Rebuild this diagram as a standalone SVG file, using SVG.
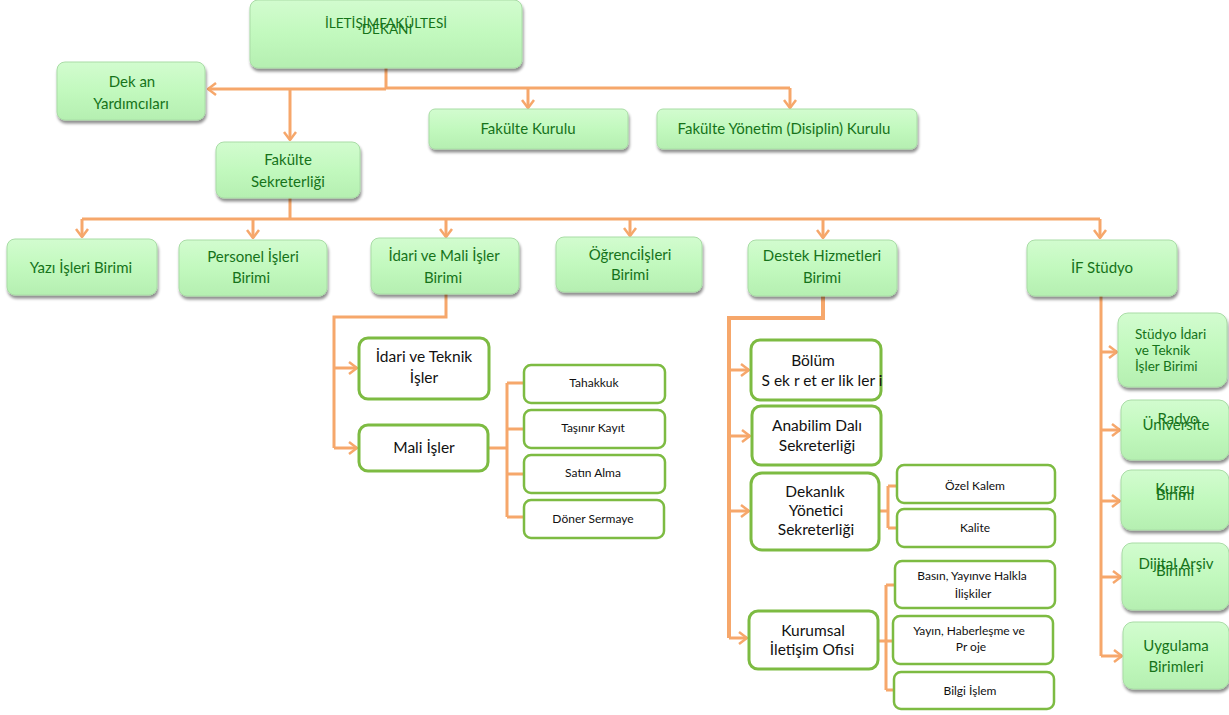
<svg xmlns="http://www.w3.org/2000/svg" width="1229" height="715" viewBox="0 0 1229 715">
<defs>
<linearGradient id="gg" x1="0" y1="0" x2="0" y2="1">
<stop offset="0" stop-color="#d2fccf"/>
<stop offset="0.5" stop-color="#c2f9be"/>
<stop offset="1" stop-color="#b5efb1"/>
</linearGradient>
<filter id="sh" x="-10%" y="-10%" width="125%" height="135%">
<feGaussianBlur in="SourceAlpha" stdDeviation="1.5"/>
<feOffset dx="1" dy="3" result="o"/>
<feComponentTransfer><feFuncA type="linear" slope="0.45"/></feComponentTransfer>
<feMerge><feMergeNode/><feMergeNode in="SourceGraphic"/></feMerge>
</filter>
<marker id="ar" viewBox="0 0 10 14" refX="9" refY="7" markerWidth="10" markerHeight="14" orient="auto" markerUnits="userSpaceOnUse">
<path d="M1,1 L9,7 L1,13" fill="none" stroke="#f6a76b" stroke-width="2.5"/>
</marker>
<style>
.g{fill:url(#gg);stroke:#a9dca6;stroke-width:1;filter:url(#sh)}
.w{fill:#fff;stroke:#7dbb42;stroke-width:3}
.w2{fill:#fff;stroke:#7dbb42;stroke-width:2.5}
.t{font-family:Lato,"Liberation Sans",sans-serif;font-size:15px;fill:#16731a;text-anchor:middle}
.k{font-family:Lato,"Liberation Sans",sans-serif;font-size:15.5px;fill:#111;text-anchor:middle}
.s{font-family:Lato,"Liberation Sans",sans-serif;font-size:12px;fill:#111;text-anchor:middle}
.c{fill:none;stroke:#f6a76b;stroke-width:3}
.ca{fill:none;stroke:#f6a76b;stroke-width:3;marker-end:url(#ar)}
</style>
</defs>
<g id="connectors">
<path class="c" d="M386,68 V88 H790"/>
<path class="ca" d="M386,89 H208"/>
<path class="ca" d="M290,89 V140"/>
<path class="ca" d="M528,88 V108"/>
<path class="ca" d="M790,88 V108"/>
<path class="c" d="M290,198 V219 M82,219 H1100"/>
<path class="ca" d="M82,219 V237"/>
<path class="ca" d="M253,219 V238"/>
<path class="ca" d="M446,219 V237"/>
<path class="ca" d="M630,219 V236"/>
<path class="ca" d="M823,219 V238"/>
<path class="ca" d="M1100,219 V238"/>
<path class="c" d="M446,294 V317 H334 V448"/>
<path class="ca" d="M334,368 H357"/>
<path class="ca" d="M334,448 H357"/>
<path class="c" d="M488,448 H507 M507,383 V517 M507,383 H524 M507,429 H524 M507,474 H524 M507,517 H524"/>
<path class="c" d="M823,296 V318 H729 V638" style="stroke-width:4"/>
<path class="ca" d="M729,370 H749"/>
<path class="ca" d="M729,436 H750"/>
<path class="ca" d="M729,511 H749"/>
<path class="ca" d="M729,638 H747"/>
<path class="c" d="M879,511 H888 M888,486 V528 M888,486 H897 M888,528 H897"/>
<path class="c" d="M878,641 H886 M886,585 V690 M886,585 H895 M886,641 H893 M886,690 H894"/>
<path class="c" d="M1101,296 V656"/>
<path class="ca" d="M1101,352 H1117"/>
<path class="ca" d="M1101,430 H1120"/>
<path class="ca" d="M1101,501 H1120"/>
<path class="ca" d="M1101,577 H1121"/>
<path class="ca" d="M1101,656 H1122"/>
</g>
<g id="dekan"><rect class="g" x="250" y="0" width="272" height="68" rx="8"/><text class="t" x="386" y="28" style="font-size:13.6px">İLETİŞİMFAKÜLTESİ</text><text class="t" x="387" y="34" style="font-size:13.6px">DEKANI</text></g>
<g id="dekan-yardimcilari"><rect class="g" x="57" y="62" width="148" height="58" rx="8"/><text class="t" x="132" y="87">Dek an</text><text class="t" x="131" y="109">Yardımcıları</text></g>
<g id="fakulte-kurulu"><rect class="g" x="429" y="109" width="199" height="40" rx="6"/><text class="t" x="528" y="134">Fakülte Kurulu</text></g>
<g id="fakulte-yonetim"><rect class="g" x="657" y="109" width="260" height="40" rx="6"/><text class="t" x="784" y="134">Fakülte Yönetim (Disiplin) Kurulu</text></g>
<g id="fakulte-sekreterligi"><rect class="g" x="216" y="142" width="144" height="56" rx="8"/><text class="t" x="288" y="165">Fakülte</text><text class="t" x="288" y="187">Sekreterliği</text></g>
<g id="yazi-isleri"><rect class="g" x="7" y="239" width="150" height="56" rx="8"/><text class="t" x="81" y="273">Yazı İşleri Birimi</text></g>
<g id="personel-isleri"><rect class="g" x="179" y="240" width="148" height="56" rx="8"/><text class="t" x="253" y="262">Personel İşleri</text><text class="t" x="251" y="283">Birimi</text></g>
<g id="idari-mali"><rect class="g" x="371" y="238" width="148" height="56" rx="8"/><text class="t" x="444" y="261">İdari ve Mali İşler</text><text class="t" x="443" y="283">Birimi</text></g>
<g id="ogrenci-isleri"><rect class="g" x="556" y="237" width="146" height="55" rx="8"/><text class="t" x="630" y="260">Öğrenciİşleri</text><text class="t" x="630" y="280">Birimi</text></g>
<g id="destek-hizmetleri"><rect class="g" x="748" y="240" width="149" height="56" rx="8"/><text class="t" x="822" y="261">Destek Hizmetleri</text><text class="t" x="822" y="283">Birimi</text></g>
<g id="if-studyo"><rect class="g" x="1027" y="240" width="150" height="56" rx="8"/><text class="t" x="1102" y="273">İF Stüdyo</text></g>
<g id="idari-teknik"><rect class="w" x="359" y="338" width="130" height="61" rx="9"/><text class="k" x="424" y="362">İdari ve Teknik</text><text class="k" x="424" y="383">İşler</text></g>
<g id="mali-isler"><rect class="w" x="359" y="425" width="129" height="46" rx="9"/><text class="k" x="424" y="453">Mali İşler</text></g>
<g id="tahakkuk"><rect class="w2" x="524" y="365" width="141" height="38" rx="7"/><text class="s" x="594" y="387">Tahakkuk</text></g>
<g id="tasinir-kayit"><rect class="w2" x="524" y="410" width="141" height="38" rx="7"/><text class="s" x="593" y="432">Taşınır Kayıt</text></g>
<g id="satin-alma"><rect class="w2" x="524" y="455" width="141" height="38" rx="7"/><text class="s" x="593" y="477">Satın Alma</text></g>
<g id="doner-sermaye"><rect class="w2" x="524" y="500" width="140" height="38" rx="7"/><text class="s" x="593" y="523">Döner Sermaye</text></g>
<g id="bolum-sekreterlikleri"><rect class="w" x="751" y="340" width="130" height="60" rx="9"/><text class="k" x="813" y="366">Bölüm</text><text class="k" x="822" y="386" xml:space="preserve">S ek r et er lik ler i</text></g>
<g id="anabilim-dali"><rect class="w" x="752" y="406" width="129" height="59" rx="9"/><text class="k" x="817" y="431">Anabilim Dalı</text><text class="k" x="817" y="451">Sekreterliği</text></g>
<g id="dekanlik-yonetici"><rect class="w" x="751" y="473" width="128" height="77" rx="11"/><text class="k" x="815" y="497">Dekanlık</text><text class="k" x="816" y="516">Yönetici</text><text class="k" x="816" y="535">Sekreterliği</text></g>
<g id="ozel-kalem"><rect class="w2" x="897" y="465" width="158" height="38" rx="7"/><text class="s" x="975" y="490">Özel Kalem</text></g>
<g id="kalite"><rect class="w2" x="897" y="509" width="158" height="38" rx="7"/><text class="s" x="975" y="532">Kalite</text></g>
<g id="kurumsal-iletisim"><rect class="w" x="749" y="611" width="129" height="58" rx="9"/><text class="k" x="813" y="636">Kurumsal</text><text class="k" x="812" y="655">İletişim Ofisi</text></g>
<g id="basin-yayin"><rect class="w2" x="895" y="561" width="160" height="47" rx="7"/><text class="s" x="972" y="580">Basın, Yayınve Halkla</text><text class="s" x="973" y="598">İlişkiler</text></g>
<g id="yayin-haberlesme"><rect class="w2" x="893" y="616" width="160" height="48" rx="7"/><text class="s" x="969" y="635">Yayın, Haberleşme ve</text><text class="s" x="971" y="651">Pr oje</text></g>
<g id="bilgi-islem"><rect class="w2" x="894" y="672" width="160" height="37" rx="7"/><text class="s" x="970" y="695">Bilgi İşlem</text></g>
<g id="studyo-idari"><rect class="g" x="1118" y="313" width="109" height="74" rx="10"/><text class="t" x="1135" y="339" style="text-anchor:start;font-size:13.6px">Stüdyo İdari</text><text class="t" x="1135" y="355" style="text-anchor:start;font-size:13.6px">ve Teknik</text><text class="t" x="1135" y="371" style="text-anchor:start;font-size:13.6px">İşler Birimi</text></g>
<g id="radyo-universite"><rect class="g" x="1121" y="400" width="108" height="60" rx="10"/><text class="t" x="1178" y="424">Radyo</text><text class="t" x="1176" y="430">Üniversite</text></g>
<g id="kurgu-birimi"><rect class="g" x="1121" y="470" width="108" height="60" rx="10"/><text class="t" x="1175" y="494">Kurgu</text><text class="t" x="1175" y="500">Birimi</text></g>
<g id="dijital-arsiv"><rect class="g" x="1122" y="543" width="107" height="67" rx="10"/><text class="t" x="1176" y="569">Dijital Arşiv</text><text class="t" x="1175" y="576">Birimi</text></g>
<g id="uygulama-birimleri"><rect class="g" x="1123" y="622" width="106" height="67" rx="10"/><text class="t" x="1176" y="651">Uygulama</text><text class="t" x="1176" y="672">Birimleri</text></g>
</svg>
